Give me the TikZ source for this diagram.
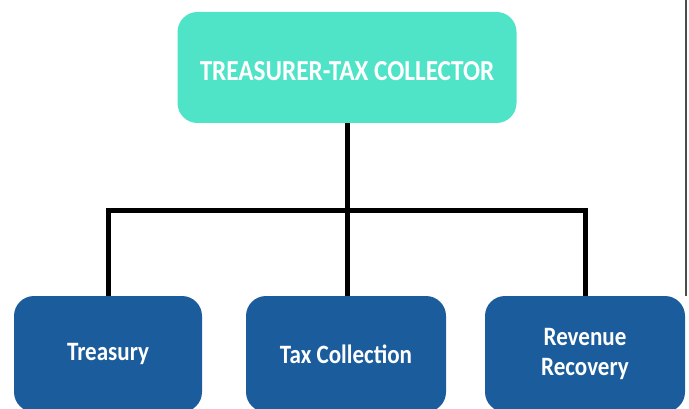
\documentclass[tikz,border=0pt]{standalone}
\usepackage{fontspec}
\setmainfont{Carlito}
\newfontfamily\boxfont[FakeStretch=0.87]{Carlito}
\usepackage{tikz}
\usetikzlibrary{positioning}
\definecolor{headteal}{HTML}{4FE3C8}
\definecolor{unitblue}{HTML}{1B5D9C}

\begin{document}
\begin{tikzpicture}[
  x=1pt,y=-1pt,
  every node/.style={text=white},
  box/.style={rectangle,rounded corners=20pt,inner sep=0pt,align=center},
  head/.style={box,fill=headteal,minimum width=339pt,minimum height=111pt,
    text height=29pt,text depth=2pt,font=\boxfont\fontsize{29}{34}\selectfont\bfseries},
  unit/.style={box,fill=unitblue,minimum width=195pt,minimum height=116pt,
    font=\boxfont\fontsize{26.5}{30}\selectfont\bfseries},
  conn/.style={line width=5pt,black}
]
\useasboundingbox (0,0) rectangle (689,409);
\clip (0,0) rectangle (689,409);
\draw[gray!60!black,line width=1.3pt] (686,0) -- (686,296);
\node[head] (top) at (347,67.5) {TREASURER-TAX COLLECTOR};
\node[unit,minimum width=188pt] (treasury) at (108,354) {Treasury};
\node[unit,minimum width=200pt] (taxcol) at (346,354) {Tax Collection};
\node[unit,minimum width=200pt] (revenue) at (585,354) {Revenue\\Recovery};
\coordinate (bus) at (347,211);
\draw[conn] (top) -- (bus) -- (bus |- taxcol.north);
\draw[conn] (treasury.north) |- (bus) -| (revenue.north);
\end{tikzpicture}
\end{document}
